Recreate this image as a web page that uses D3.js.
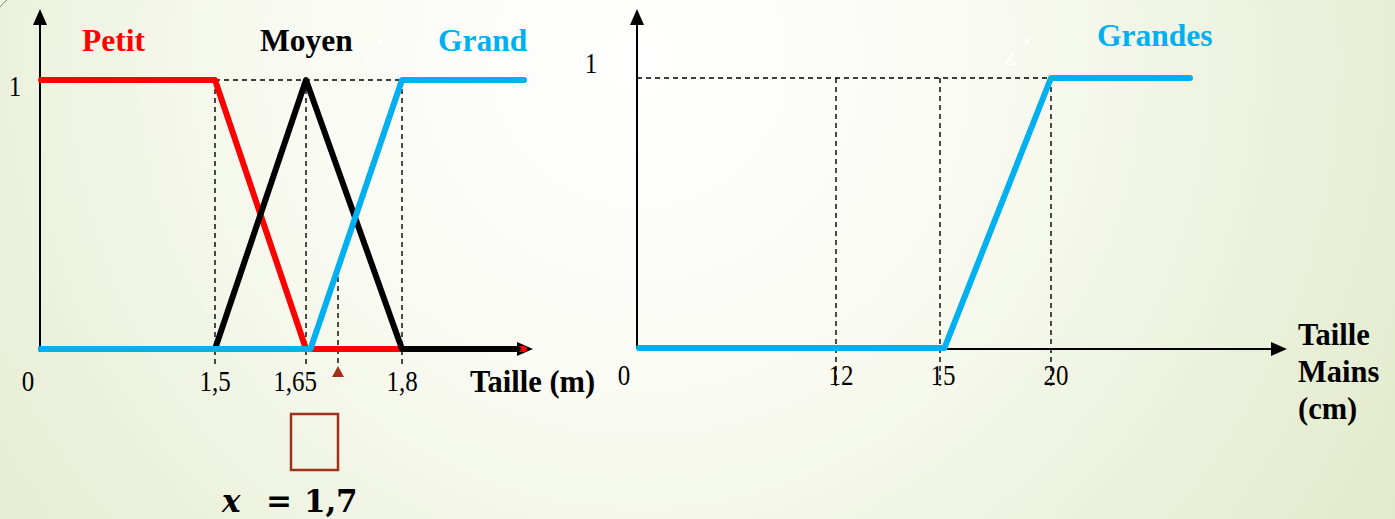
<!DOCTYPE html>
<html><head><meta charset="utf-8">
<script src="https://cdn.jsdelivr.net/npm/d3@7"></script>
<style>html,body{margin:0;padding:0;overflow:hidden;background:#fff}svg{display:block}</style>
</head><body><svg id="c" width="1395" height="519"></svg>
<script>
// ---- data ----
const leftTicks = [0, 1.5, 1.65, 1.8];
const leftTickLabels = ["0", "1,5", "1,65", "1,8"];
const leftSetNames = ["Petit", "Moyen", "Grand"];
const petit = [[0, 1], [1.5, 1], [1.65, 0], [2.0, 0]];
const moyen = [[0, 0], [1.5, 0], [1.65, 1], [1.8, 0], [1.99, 0]];
const grand = [[0, 0], [1.657, 0], [1.8, 1], [2.0, 1]];
const inputX = 1.7;
const inputLabel = ["x", "=", "1,", "7"];
const leftAxisTitle = "Taille (m)";
const rightTicks = [0, 12, 15, 20];
const rightTickLabels = ["0", "12", "15", "20"];
const rightSetName = "Grandes";
const grandes = [[0, 0], [15.2, 0], [20, 1], [25, 1]];
const rightAxisTitle = ["Taille", "Mains", "(cm)"];
const yTickLabel = "1";

// ---- setup ----
const svg = d3.select("#c");
const W = 1395, H = 519;
const defs = svg.append("defs");
const g = defs.append("radialGradient").attr("id", "bg").attr("gradientUnits", "userSpaceOnUse")
  .attr("cx", 640).attr("cy", 60).attr("r", 920);
g.append("stop").attr("offset", 0).attr("stop-color", "#ffffff");
g.append("stop").attr("offset", 0.35).attr("stop-color", "#fafbf4");
g.append("stop").attr("offset", 1).attr("stop-color", "#e0e9c8");
svg.append("rect").attr("width", W).attr("height", H).attr("fill", "url(#bg)");
svg.append("path").attr("d", "M0,7 Q3,3 7,0").attr("stroke", "#8a8a80").attr("stroke-width", 1).attr("fill", "none");

const serif = "'Liberation Serif','Times New Roman',serif";
const RED = "#ff0000", BLUE = "#00b0f0", BROWN = "#a0321a";

function axes(x0, y0, yTop, xEnd) {
  svg.append("line").attr("x1", x0).attr("x2", x0).attr("y1", y0).attr("y2", yTop + 14)
    .attr("stroke", "#000").attr("stroke-width", 2);
  svg.append("path").attr("d", `M${x0},${yTop} L${x0 - 7},${yTop + 16} L${x0 + 7},${yTop + 16} Z`).attr("fill", "#000");
  svg.append("line").attr("x1", x0).attr("x2", xEnd - 12).attr("y1", y0).attr("y2", y0)
    .attr("stroke", "#000").attr("stroke-width", 2);
  svg.append("path").attr("d", `M${xEnd},${y0} L${xEnd - 16},${y0 - 7} L${xEnd - 16},${y0 + 7} Z`).attr("fill", "#000");
}
function dashed(x1, y1, x2, y2) {
  svg.append("line").attr("x1", x1).attr("y1", y1).attr("x2", x2).attr("y2", y2)
    .attr("stroke", "#000").attr("stroke-width", 1.4).attr("stroke-dasharray", "5,4");
}
function curve(data, x, y, color) {
  svg.append("path").datum(data)
    .attr("d", d3.line().x(d => x(d[0])).y(d => y(d[1])))
    .attr("fill", "none").attr("stroke", color).attr("stroke-width", 6)
    .attr("stroke-linecap", "round").attr("stroke-linejoin", "round");
}
function tickText(x, y, t) {
  svg.append("text").attr("transform", `translate(${x},${y}) scale(1,1.15)`)
    .attr("text-anchor", "middle").attr("font-family", serif).attr("font-size", 25).text(t);
}

// ---- left chart ----
const xL = d3.scaleLinear().domain([0, 1.5, 1.65, 1.8, 2.0]).range([41, 215, 306, 402, 524]);
const yL = d3.scaleLinear().domain([0, 1]).range([349, 80]);
axes(40, 349, 9, 533);
dashed(xL(1.5), yL(1), xL(1.8), yL(1));
[1.5, 1.65, 1.8].forEach(v => dashed(xL(v), yL(1), xL(v), 366));
const grandAt = d3.scaleLinear().domain(grand.map(d => d[0])).range(grand.map(d => d[1]));
dashed(xL(inputX), yL(grandAt(inputX)), xL(inputX), 366);
curve(petit, xL, yL, RED);
curve(moyen, xL, yL, "#000");
curve(grand, xL, yL, BLUE);

const tickDx = [-13, 0, -11, 0];
leftTicks.forEach((d, i) => tickText(xL(d) + tickDx[i], 391, leftTickLabels[i]));
svg.append("text").attr("x", 470).attr("y", 392).attr("font-family", serif).attr("font-size", 30.5)
  .attr("font-weight", "bold").text(leftAxisTitle);
tickText(15, 96, yTickLabel);

const nameX = [82, 260, 438], nameC = [RED, "#000", BLUE];
leftSetNames.forEach((n, i) => svg.append("text").attr("x", nameX[i]).attr("y", 51)
  .attr("font-family", serif).attr("font-size", 31.5).attr("font-weight", "bold").attr("fill", nameC[i]).text(n));

// input marker
const mx = xL(inputX);
svg.append("path").attr("d", `M${mx},366 L${mx - 6},377 L${mx + 6},377 Z`).attr("fill", BROWN);
svg.append("rect").attr("x", 291).attr("y", 414).attr("width", 47).attr("height", 56)
  .attr("fill", "none").attr("stroke", BROWN).attr("stroke-width", 2.5);
const eqFont = "'DejaVu Serif',serif";
const eqX = [222, 266, 304, 336];
inputLabel.forEach((t, i) => svg.append("text").attr("x", eqX[i]).attr("y", 512)
  .attr("font-family", eqFont).attr("font-size", 31).attr("font-weight", "bold")
  .attr("font-style", i === 0 ? "italic" : "normal").text(t));

// faint white marks
svg.append("text").attr("x", 363).attr("y", 65).attr("font-family", serif).attr("font-size", 26).attr("fill", "#fff").text("z");
svg.append("circle").attr("cx", 380).attr("cy", 42).attr("r", 2.5).attr("fill", "#fff");

// ---- right chart ----
const xR = d3.scaleLinear().domain([0, 12, 15, 20, 25]).range([639, 836, 940, 1051, 1190]);
const yR = d3.scaleLinear().domain([0, 1]).range([348, 78]);
axes(637, 349, 9, 1287);
dashed(637, yR(1), xR(20), yR(1));
[12, 15, 20].forEach(v => dashed(xR(v), yR(1), xR(v), 386));
curve(grandes, xR, yR, BLUE);
const tickDxR = [-15, 5, 3, 5];
rightTicks.forEach((d, i) => tickText(xR(d) + tickDxR[i], 385, rightTickLabels[i]));
tickText(591, 73, yTickLabel);
svg.append("text").attr("x", 1097).attr("y", 46).attr("font-family", serif).attr("font-size", 31.5)
  .attr("font-weight", "bold").attr("fill", BLUE).text(rightSetName);
rightAxisTitle.forEach((t, i) => svg.append("text").attr("x", 1298).attr("y", 345 + i * 37)
  .attr("font-family", serif).attr("font-size", 30.5).attr("font-weight", "bold").text(t));
svg.append("text").attr("x", 1004).attr("y", 65).attr("font-family", serif).attr("font-size", 26).attr("fill", "#fff").text("z");
svg.append("circle").attr("cx", 1027).attr("cy", 41).attr("r", 2.5).attr("fill", "#fff");
</script></body></html>
